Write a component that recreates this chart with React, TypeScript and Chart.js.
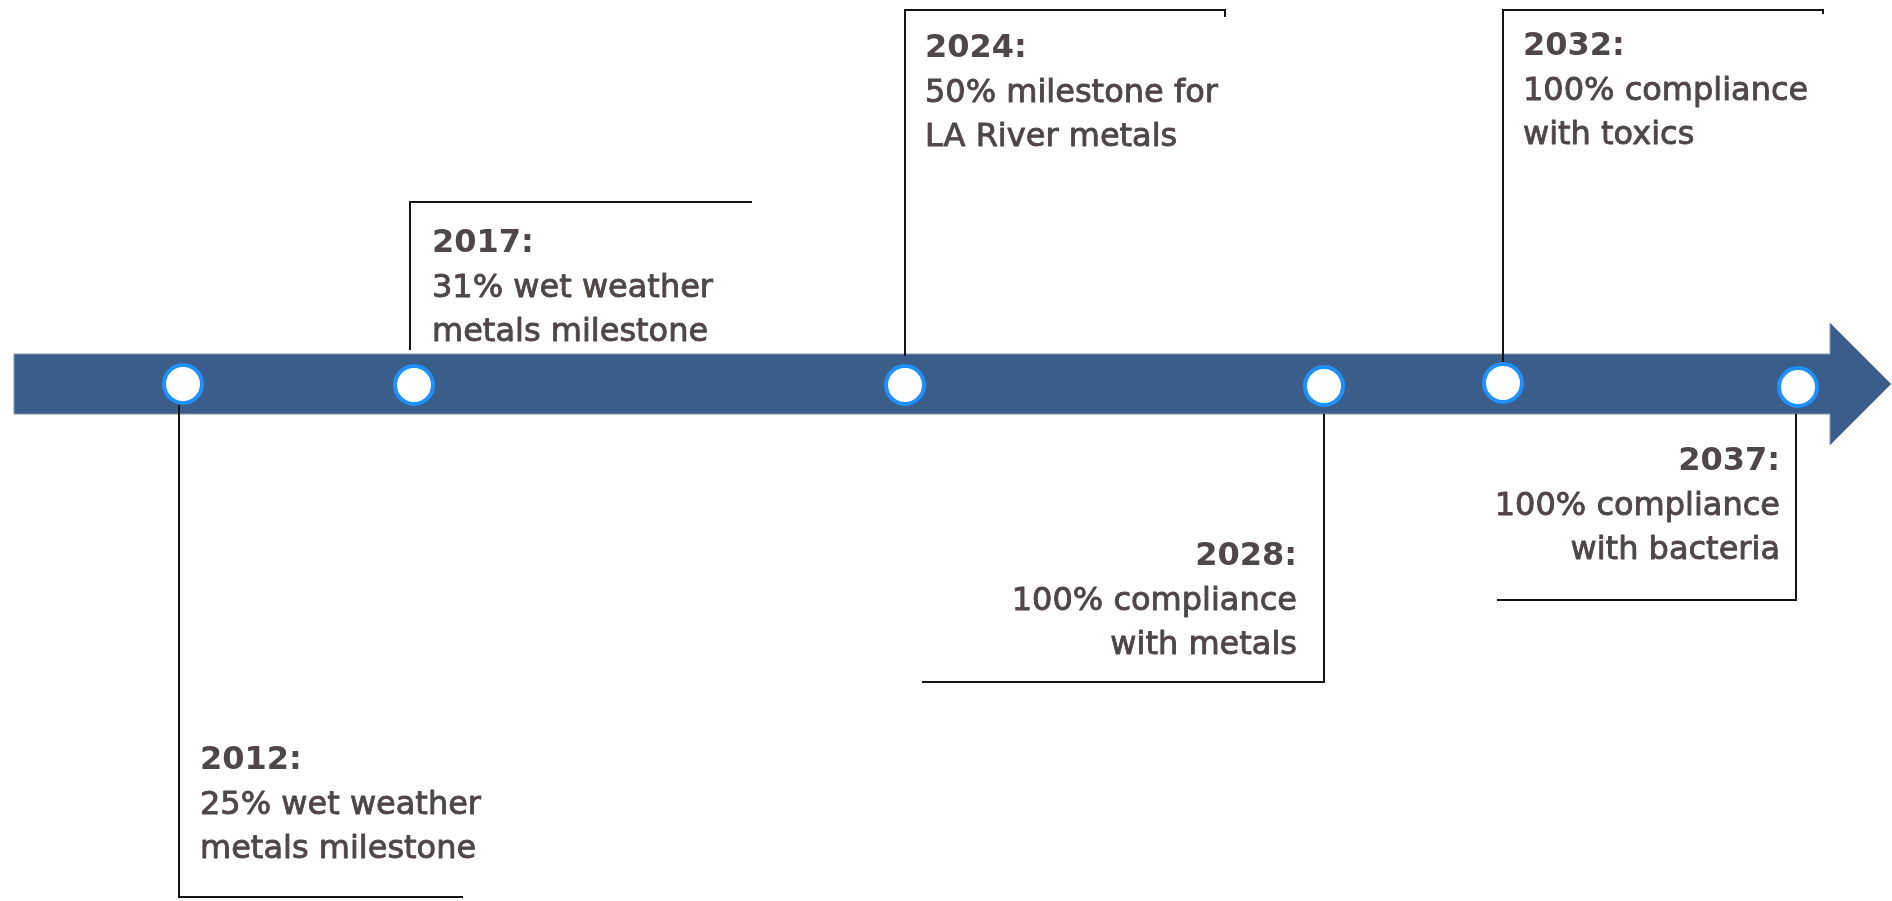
import React, { useEffect, useRef } from "react";
import { Chart, registerables } from "chart.js";

Chart.register(...registerables);

// ---- data ----
const years = ["2012", "2017", "2024", "2028", "2032", "2037"];
const descriptions = [
  ["25% wet weather", "metals milestone"],
  ["31% wet weather", "metals milestone"],
  ["50% milestone for", "LA River metals"],
  ["100% compliance", "with metals"],
  ["100% compliance", "with toxics"],
  ["100% compliance", "with bacteria"],
];
// position of each milestone along the timeline (horizontal units)
const eventPos = [183, 414, 905, 1324, 1503, 1798];
const eventLevel = [384, 385, 385, 386, 383, 387];
// callout leader lines (timeline units)
const leaderX = [
  [179, 179, 463],
  [410, 410, 752],
  [905, 905, 1225, 1225],
  [1324, 1324, 922],
  [1503, 1503, 1823, 1823],
  [1796, 1796, 1497],
];
const leaderY = [
  [405, 897, 897],
  [350, 202, 202],
  [356, 10, 10, 17],
  [414, 682, 682],
  [362, 10, 10, 14],
  [414, 600, 600],
];
// label anchors
const labelX = [200, 432, 925, 1297, 1523, 1780];
const labelY = [769, 252, 57, 565, 55, 470];
const labelAlign: CanvasTextAlign[] = ["left", "left", "left", "right", "left", "right"];
// arrow extent
const arrowStart = 14;
const arrowHeadStart = 1830;
const arrowTip = 1891;
const arrowAxis = 384;
const arrowBodyHalf = 30;
const arrowHeadHalf = 61;

const TEXT_COLOR = "#4f4647";
const FONT = '"DejaVu Sans", sans-serif';

const arrowPlugin = {
  id: "arrowPlugin",
  beforeDatasetsDraw(chart: any) {
    const { ctx, scales } = chart;
    const x = scales.x;
    const y = scales.y;
    ctx.save();
    ctx.beginPath();
    ctx.moveTo(x.getPixelForValue(arrowStart), y.getPixelForValue(arrowAxis - arrowBodyHalf));
    ctx.lineTo(x.getPixelForValue(arrowHeadStart), y.getPixelForValue(arrowAxis - arrowBodyHalf));
    ctx.lineTo(x.getPixelForValue(arrowHeadStart), y.getPixelForValue(arrowAxis - arrowHeadHalf));
    ctx.lineTo(x.getPixelForValue(arrowTip), y.getPixelForValue(arrowAxis));
    ctx.lineTo(x.getPixelForValue(arrowHeadStart), y.getPixelForValue(arrowAxis + arrowHeadHalf));
    ctx.lineTo(x.getPixelForValue(arrowHeadStart), y.getPixelForValue(arrowAxis + arrowBodyHalf));
    ctx.lineTo(x.getPixelForValue(arrowStart), y.getPixelForValue(arrowAxis + arrowBodyHalf));
    ctx.closePath();
    ctx.fillStyle = "#3a5d89";
    ctx.fill();
    ctx.lineWidth = 1;
    ctx.strokeStyle = "#7f98b8";
    ctx.stroke();
    ctx.restore();
  },
};

const labelPlugin = {
  id: "labelPlugin",
  afterDatasetsDraw(chart: any) {
    const { ctx, scales } = chart;
    ctx.save();
    ctx.fillStyle = TEXT_COLOR;
    ctx.strokeStyle = TEXT_COLOR;
    ctx.lineJoin = "round";
    ctx.textBaseline = "alphabetic";
    years.forEach((yr, i) => {
      const px = scales.x.getPixelForValue(labelX[i]);
      const py = scales.y.getPixelForValue(labelY[i]);
      ctx.textAlign = labelAlign[i];
      ctx.font = `bold 32px ${FONT}`;
      ctx.fillText(yr + ":", px, py);
      ctx.font = `32px ${FONT}`;
      ctx.lineWidth = 0.9;
      descriptions[i].forEach((line, j) => {
        const ly = py + 44.5 * (j + 1);
        ctx.fillText(line, px, ly);
        ctx.strokeText(line, px, ly);
      });
    });
    ctx.restore();
  },
};

export default function App() {
  const ref = useRef<HTMLCanvasElement>(null);
  useEffect(() => {
    document.body.style.margin = "0";
    document.body.style.overflow = "hidden";
    const canvas = ref.current!;
    const leaderSets = leaderX.map((xs, i) => ({
      type: "scatter" as const,
      data: xs.map((xv, k) => ({ x: xv, y: leaderY[i][k] })),
      showLine: true,
      borderColor: "#141414",
      borderWidth: 2,
      pointRadius: 0,
      fill: false,
      tension: 0,
      borderJoinStyle: "miter" as const,
    }));
    const chart = new Chart(canvas, {
      type: "scatter",
      data: {
        datasets: [
          {
            data: eventPos.map((p, i) => ({ x: p, y: eventLevel[i] })),
            pointRadius: 19,
            pointBorderWidth: 4,
            pointBackgroundColor: "#ffffff",
            pointBorderColor: "#1e90ff",
            showLine: false,
          } as any,
          ...leaderSets,
        ],
      },
      options: {
        animation: false,
        responsive: false,
        devicePixelRatio: 1,
        events: [],
        layout: { padding: 0, autoPadding: false },
        plugins: { legend: { display: false }, tooltip: { enabled: false } },
        scales: {
          x: { type: "linear", min: 0, max: 1892, display: false },
          y: { type: "linear", min: 0, max: 901, reverse: true, display: false },
        },
      },
      plugins: [arrowPlugin, labelPlugin],
    });
    return () => chart.destroy();
  }, []);
  return <canvas ref={ref} width={1892} height={901} style={{ display: "block" }} />;
}
